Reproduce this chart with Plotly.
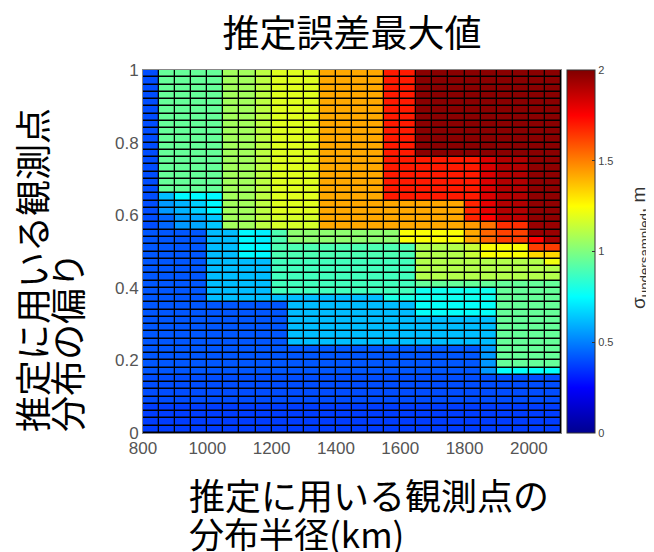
import plotly.graph_objects as go

# ---- data -------------------------------------------------------------
x_edges = [800, 850, 900, 950, 1000, 1050, 1100, 1150, 1200, 1250, 1300, 1350, 1400,
           1450, 1500, 1550, 1600, 1650, 1700, 1750, 1800, 1850, 1900, 1950, 2000,
           2050, 2100]
y_edges = [0.00, 0.02, 0.04, 0.06, 0.08, 0.10, 0.12, 0.14, 0.16, 0.18, 0.20, 0.22,
           0.24, 0.26, 0.28, 0.30, 0.32, 0.34, 0.36, 0.38, 0.40, 0.42, 0.44, 0.46,
           0.48, 0.50, 0.52, 0.54, 0.56, 0.58, 0.60, 0.62, 0.64, 0.66, 0.68, 0.70,
           0.72, 0.74, 0.76, 0.78, 0.80, 0.82, 0.84, 0.86, 0.88, 0.90, 0.92, 0.94,
           0.96, 0.98, 1.00]
x_ticks = [800, 1000, 1200, 1400, 1600, 1800, 2000]
y_ticks = [0, 0.2, 0.4, 0.6, 0.8, 1]
y_ticktext = ["0", "0.2", "0.4", "0.6", "0.8", "1"]
cb_ticks = [0, 0.5, 1, 1.5, 2]
cb_ticktext = ["0", "0.5", "1", "1.5", "2"]

# rows listed from the TOP of the chart (y = 1) downwards
z_top_down = [
    [0.40, 0.95, 0.95, 0.95, 0.95, 1.07, 1.07, 1.12, 1.19, 1.19, 1.19, 1.42, 1.42, 1.42, 1.42, 1.70, 1.70, 1.98, 1.98, 1.98, 1.98, 1.98, 1.98, 1.98, 1.98, 1.98],
    [0.40, 0.95, 0.95, 0.95, 0.95, 1.07, 1.07, 1.12, 1.19, 1.19, 1.19, 1.42, 1.42, 1.42, 1.42, 1.70, 1.70, 1.98, 1.98, 1.98, 1.98, 1.98, 1.98, 1.98, 1.98, 1.98],
    [0.40, 0.95, 0.95, 0.95, 0.95, 1.07, 1.07, 1.12, 1.19, 1.19, 1.19, 1.42, 1.42, 1.42, 1.42, 1.70, 1.70, 1.98, 1.98, 1.98, 1.98, 1.98, 1.98, 1.98, 1.98, 1.98],
    [0.40, 0.95, 0.95, 0.95, 0.95, 1.07, 1.07, 1.12, 1.19, 1.19, 1.19, 1.42, 1.42, 1.42, 1.42, 1.70, 1.70, 1.98, 1.98, 1.98, 1.98, 1.98, 1.98, 1.98, 1.98, 1.98],
    [0.40, 0.95, 0.95, 0.95, 0.95, 1.07, 1.07, 1.12, 1.19, 1.19, 1.19, 1.42, 1.42, 1.42, 1.42, 1.70, 1.70, 1.98, 1.98, 1.98, 1.98, 1.98, 1.98, 1.98, 1.98, 1.98],
    [0.40, 0.95, 0.95, 0.95, 0.95, 1.07, 1.07, 1.12, 1.19, 1.19, 1.19, 1.42, 1.42, 1.42, 1.42, 1.70, 1.70, 1.98, 1.98, 1.98, 1.98, 1.98, 1.98, 1.98, 1.98, 1.98],
    [0.40, 0.95, 0.95, 0.95, 0.95, 1.07, 1.07, 1.12, 1.19, 1.19, 1.19, 1.42, 1.42, 1.42, 1.42, 1.70, 1.70, 1.98, 1.98, 1.98, 1.98, 1.98, 1.98, 1.98, 1.98, 1.98],
    [0.40, 0.95, 0.95, 0.95, 0.95, 1.07, 1.07, 1.12, 1.19, 1.19, 1.19, 1.42, 1.42, 1.42, 1.42, 1.70, 1.70, 1.98, 1.98, 1.98, 1.98, 1.98, 1.98, 1.98, 1.98, 1.98],
    [0.40, 0.95, 0.95, 0.95, 0.95, 1.07, 1.07, 1.12, 1.19, 1.19, 1.19, 1.42, 1.42, 1.42, 1.42, 1.70, 1.70, 1.98, 1.98, 1.98, 1.98, 1.98, 1.98, 1.98, 1.98, 1.98],
    [0.40, 0.95, 0.95, 0.95, 0.95, 1.07, 1.07, 1.12, 1.19, 1.19, 1.19, 1.42, 1.42, 1.42, 1.42, 1.70, 1.70, 1.98, 1.98, 1.98, 1.98, 1.98, 1.98, 1.98, 1.98, 1.98],
    [0.40, 0.95, 0.95, 0.95, 0.95, 1.07, 1.07, 1.12, 1.19, 1.19, 1.19, 1.42, 1.42, 1.42, 1.42, 1.70, 1.70, 1.98, 1.98, 1.98, 1.98, 1.98, 1.98, 1.98, 1.98, 1.98],
    [0.40, 0.95, 0.95, 0.95, 0.95, 1.07, 1.07, 1.12, 1.19, 1.19, 1.19, 1.42, 1.42, 1.42, 1.42, 1.70, 1.70, 1.98, 1.98, 1.98, 1.98, 1.98, 1.98, 1.98, 1.98, 1.98],
    [0.40, 0.95, 0.95, 0.95, 0.95, 1.07, 1.07, 1.12, 1.19, 1.19, 1.19, 1.42, 1.42, 1.42, 1.42, 1.70, 1.70, 1.70, 1.70, 1.70, 1.70, 1.82, 1.90, 1.90, 1.97, 1.97],
    [0.40, 0.95, 0.95, 0.95, 0.95, 1.07, 1.07, 1.12, 1.19, 1.19, 1.19, 1.42, 1.42, 1.42, 1.42, 1.70, 1.70, 1.70, 1.70, 1.70, 1.70, 1.82, 1.90, 1.90, 1.97, 1.97],
    [0.40, 0.95, 0.95, 0.95, 0.95, 1.07, 1.07, 1.12, 1.19, 1.19, 1.19, 1.42, 1.42, 1.42, 1.42, 1.70, 1.70, 1.70, 1.70, 1.70, 1.70, 1.82, 1.90, 1.90, 1.97, 1.97],
    [0.40, 0.95, 0.95, 0.95, 0.95, 1.07, 1.07, 1.12, 1.19, 1.19, 1.19, 1.42, 1.42, 1.42, 1.42, 1.70, 1.70, 1.70, 1.70, 1.70, 1.70, 1.82, 1.90, 1.90, 1.97, 1.97],
    [0.40, 0.95, 0.95, 0.95, 0.95, 1.07, 1.07, 1.12, 1.19, 1.19, 1.19, 1.42, 1.42, 1.42, 1.42, 1.70, 1.70, 1.70, 1.70, 1.70, 1.70, 1.82, 1.90, 1.90, 1.97, 1.97],
    [0.40, 0.62, 0.74, 0.74, 0.74, 1.07, 1.07, 1.12, 1.19, 1.19, 1.19, 1.42, 1.42, 1.42, 1.42, 1.70, 1.70, 1.70, 1.70, 1.70, 1.70, 1.82, 1.90, 1.90, 1.97, 1.97],
    [0.40, 0.55, 0.60, 0.66, 0.74, 1.07, 1.07, 1.12, 1.19, 1.19, 1.19, 1.42, 1.42, 1.42, 1.42, 1.42, 1.42, 1.42, 1.42, 1.42, 1.68, 1.80, 1.90, 1.90, 1.97, 1.97],
    [0.40, 0.55, 0.60, 0.66, 0.74, 1.07, 1.07, 1.12, 1.19, 1.19, 1.19, 1.42, 1.42, 1.42, 1.42, 1.42, 1.42, 1.42, 1.42, 1.42, 1.68, 1.80, 1.90, 1.90, 1.97, 1.97],
    [0.40, 0.45, 0.55, 0.58, 0.64, 1.07, 1.07, 1.12, 1.17, 1.17, 1.17, 1.42, 1.42, 1.42, 1.42, 1.42, 1.42, 1.42, 1.42, 1.42, 1.68, 1.75, 1.88, 1.88, 1.97, 1.97],
    [0.40, 0.45, 0.55, 0.58, 0.64, 1.07, 1.07, 1.12, 1.17, 1.17, 1.17, 1.42, 1.42, 1.42, 1.42, 1.42, 1.42, 1.42, 1.42, 1.42, 1.45, 1.52, 1.66, 1.66, 1.95, 1.95],
    [0.42, 0.42, 0.42, 0.42, 0.62, 0.62, 0.74, 0.72, 0.90, 1.03, 1.03, 1.03, 1.03, 1.03, 1.03, 1.03, 1.24, 1.24, 1.24, 1.24, 1.42, 1.55, 1.62, 1.62, 1.95, 1.95],
    [0.42, 0.42, 0.42, 0.42, 0.62, 0.62, 0.74, 0.72, 0.90, 1.03, 1.03, 1.03, 1.03, 1.03, 1.03, 1.03, 1.24, 1.24, 1.24, 1.24, 1.42, 1.55, 1.63, 1.63, 1.75, 1.92],
    [0.42, 0.42, 0.42, 0.42, 0.62, 0.62, 0.74, 0.74, 0.90, 0.90, 0.90, 0.90, 0.90, 0.90, 0.90, 0.90, 0.90, 1.10, 1.10, 1.10, 1.14, 1.24, 1.24, 1.24, 1.63, 1.63],
    [0.42, 0.42, 0.42, 0.42, 0.62, 0.62, 0.74, 0.74, 0.90, 0.90, 0.90, 0.90, 0.90, 0.90, 0.90, 0.90, 0.90, 1.10, 1.10, 1.10, 1.14, 1.24, 1.24, 1.24, 1.33, 1.33],
    [0.42, 0.42, 0.42, 0.42, 0.62, 0.62, 0.62, 0.62, 0.88, 0.88, 0.88, 0.88, 0.88, 0.88, 0.88, 0.88, 0.88, 1.10, 1.10, 1.10, 1.10, 1.10, 1.10, 1.10, 1.10, 1.22],
    [0.42, 0.42, 0.42, 0.42, 0.62, 0.62, 0.62, 0.62, 0.88, 0.88, 0.88, 0.88, 0.88, 0.88, 0.88, 0.88, 0.88, 1.10, 1.10, 1.10, 1.10, 1.10, 1.10, 1.10, 1.10, 1.10],
    [0.42, 0.42, 0.42, 0.42, 0.62, 0.62, 0.62, 0.62, 0.88, 0.88, 0.88, 0.88, 0.88, 0.88, 0.88, 0.88, 0.88, 1.10, 1.10, 1.10, 1.10, 1.10, 1.10, 1.10, 1.10, 1.10],
    [0.42, 0.42, 0.42, 0.42, 0.62, 0.62, 0.62, 0.62, 0.88, 0.88, 0.88, 0.88, 0.88, 0.88, 0.88, 0.88, 0.88, 0.95, 0.95, 0.95, 0.95, 0.95, 0.95, 0.95, 0.95, 0.95],
    [0.42, 0.42, 0.42, 0.42, 0.62, 0.62, 0.62, 0.62, 0.88, 0.88, 0.88, 0.88, 0.88, 0.88, 0.88, 0.88, 0.88, 0.78, 0.78, 0.78, 0.78, 0.78, 0.95, 0.95, 0.95, 0.95],
    [0.42, 0.42, 0.42, 0.42, 0.62, 0.62, 0.62, 0.62, 0.62, 0.62, 0.62, 0.62, 0.62, 0.62, 0.62, 0.80, 0.80, 0.78, 0.78, 0.78, 0.78, 0.78, 0.95, 0.95, 0.95, 0.95],
    [0.42, 0.42, 0.42, 0.42, 0.42, 0.42, 0.42, 0.42, 0.42, 0.62, 0.62, 0.62, 0.62, 0.62, 0.62, 0.62, 0.62, 0.76, 0.76, 0.76, 0.76, 0.76, 0.95, 0.95, 0.95, 0.95],
    [0.42, 0.42, 0.42, 0.42, 0.42, 0.42, 0.42, 0.42, 0.42, 0.62, 0.62, 0.62, 0.62, 0.62, 0.62, 0.62, 0.62, 0.76, 0.76, 0.76, 0.76, 0.76, 0.95, 0.95, 0.95, 0.95],
    [0.42, 0.42, 0.42, 0.42, 0.42, 0.42, 0.42, 0.42, 0.42, 0.62, 0.62, 0.62, 0.62, 0.62, 0.62, 0.62, 0.62, 0.62, 0.62, 0.62, 0.62, 0.62, 0.95, 0.95, 0.95, 0.95],
    [0.42, 0.42, 0.42, 0.42, 0.42, 0.42, 0.42, 0.42, 0.42, 0.62, 0.62, 0.62, 0.62, 0.62, 0.62, 0.62, 0.62, 0.62, 0.62, 0.62, 0.62, 0.62, 0.95, 0.95, 0.95, 0.95],
    [0.42, 0.42, 0.42, 0.42, 0.42, 0.42, 0.42, 0.42, 0.42, 0.62, 0.62, 0.62, 0.62, 0.62, 0.62, 0.62, 0.62, 0.62, 0.62, 0.62, 0.62, 0.62, 0.95, 0.95, 0.95, 0.95],
    [0.42, 0.42, 0.42, 0.42, 0.42, 0.42, 0.42, 0.42, 0.42, 0.62, 0.62, 0.62, 0.62, 0.62, 0.62, 0.62, 0.62, 0.62, 0.62, 0.62, 0.62, 0.62, 0.95, 0.95, 0.95, 0.95],
    [0.42, 0.42, 0.42, 0.42, 0.42, 0.42, 0.42, 0.42, 0.42, 0.42, 0.42, 0.42, 0.42, 0.42, 0.42, 0.42, 0.42, 0.42, 0.42, 0.42, 0.42, 0.55, 0.95, 0.95, 0.95, 0.95],
    [0.42, 0.42, 0.42, 0.42, 0.42, 0.42, 0.42, 0.42, 0.42, 0.42, 0.42, 0.42, 0.42, 0.42, 0.42, 0.42, 0.42, 0.42, 0.42, 0.42, 0.42, 0.55, 0.95, 0.95, 0.95, 0.95],
    [0.42, 0.42, 0.42, 0.42, 0.42, 0.42, 0.42, 0.42, 0.42, 0.42, 0.42, 0.42, 0.42, 0.42, 0.42, 0.42, 0.42, 0.42, 0.42, 0.42, 0.42, 0.55, 0.95, 0.95, 0.95, 0.95],
    [0.42, 0.42, 0.42, 0.42, 0.42, 0.42, 0.42, 0.42, 0.42, 0.42, 0.42, 0.42, 0.42, 0.42, 0.42, 0.42, 0.42, 0.42, 0.42, 0.42, 0.42, 0.55, 0.76, 0.76, 0.76, 0.76],
    [0.40, 0.40, 0.40, 0.40, 0.40, 0.40, 0.40, 0.40, 0.40, 0.40, 0.40, 0.40, 0.40, 0.40, 0.40, 0.40, 0.40, 0.40, 0.40, 0.40, 0.40, 0.40, 0.40, 0.40, 0.40, 0.40],
    [0.40, 0.40, 0.40, 0.40, 0.40, 0.40, 0.40, 0.40, 0.40, 0.40, 0.40, 0.40, 0.40, 0.40, 0.40, 0.40, 0.40, 0.40, 0.40, 0.40, 0.40, 0.40, 0.40, 0.40, 0.40, 0.40],
    [0.40, 0.40, 0.40, 0.40, 0.40, 0.40, 0.40, 0.40, 0.40, 0.40, 0.40, 0.40, 0.40, 0.40, 0.40, 0.40, 0.40, 0.40, 0.40, 0.40, 0.40, 0.40, 0.40, 0.40, 0.40, 0.40],
    [0.40, 0.40, 0.40, 0.40, 0.40, 0.40, 0.40, 0.40, 0.40, 0.40, 0.40, 0.40, 0.40, 0.40, 0.40, 0.40, 0.40, 0.40, 0.40, 0.40, 0.40, 0.40, 0.40, 0.40, 0.40, 0.40],
    [0.37, 0.37, 0.37, 0.37, 0.37, 0.37, 0.37, 0.37, 0.37, 0.37, 0.37, 0.37, 0.37, 0.37, 0.37, 0.37, 0.37, 0.37, 0.37, 0.37, 0.37, 0.37, 0.37, 0.37, 0.37, 0.37],
    [0.37, 0.37, 0.37, 0.37, 0.37, 0.37, 0.37, 0.37, 0.37, 0.37, 0.37, 0.37, 0.37, 0.37, 0.37, 0.37, 0.37, 0.37, 0.37, 0.37, 0.37, 0.37, 0.37, 0.37, 0.37, 0.37],
    [0.37, 0.37, 0.37, 0.37, 0.37, 0.37, 0.37, 0.37, 0.37, 0.37, 0.37, 0.37, 0.37, 0.37, 0.37, 0.37, 0.37, 0.37, 0.37, 0.37, 0.37, 0.37, 0.37, 0.37, 0.37, 0.37],
    [0.37, 0.37, 0.37, 0.37, 0.37, 0.37, 0.37, 0.37, 0.37, 0.37, 0.37, 0.37, 0.37, 0.37, 0.37, 0.37, 0.37, 0.37, 0.37, 0.37, 0.37, 0.37, 0.37, 0.37, 0.37, 0.37],
]
z = z_top_down[::-1]

title_text = "推定誤差最大値"
xtitle_lines = ["推定に用いる観測点の", "分布半径(km)"]
ytitle_lines = ["推定に用いる観測点", "分布の偏り"]
cb_title = "σ<sub>undersampled</sub>, m"

# MATLAB-style jet colormap
jet = [[0.0, "rgb(0,0,143)"], [0.125, "rgb(0,0,255)"], [0.375, "rgb(0,255,255)"],
       [0.625, "rgb(255,255,0)"], [0.875, "rgb(255,0,0)"], [1.0, "rgb(128,0,0)"]]

CJK = "Noto Sans CJK JP"
TICKF = "Liberation Sans, Arial, sans-serif"

# The page body has an 8px margin, so the figure is drawn at (8, 8).
OFF = 8
W, H = 654 - OFF, 552 - OFF
# plot area in screen pixels: x 143..561, y 70..433
SX0, SX1, SY0, SY1 = 143, 561, 70, 433
L, T = SX0 - OFF, SY0 - OFF
R, B = W - (SX1 - OFF), H - (SY1 - OFF)
pw, ph = SX1 - SX0, SY1 - SY0


def px_x(p):
    return (p - SX0) / pw


def px_y(p):
    return (SY1 - p) / ph


fig = go.Figure(go.Heatmap(
    x=x_edges, y=y_edges, z=z, zmin=0, zmax=2, colorscale=jet,
    xgap=1.3, ygap=1.5,
    colorbar=dict(
        x=px_x(567), xanchor="left", xpad=0, ypad=0,
        y=0.5, yanchor="middle", len=1, lenmode="fraction",
        thickness=28, thicknessmode="pixels",
        outlinewidth=1, outlinecolor="#333",
        tickvals=cb_ticks, ticktext=cb_ticktext,
        ticks="inside", ticklen=3, tickcolor="#333",
        tickfont=dict(family=TICKF, size=11, color="#444"),
    ),
))

annotations = [
    dict(text=ytitle_lines[0], x=px_x(31), y=px_y(434), xref="paper", yref="paper",
         xanchor="center", yanchor="bottom", textangle=-90, showarrow=False,
         font=dict(family=CJK, size=36, color="black")),
    dict(text=ytitle_lines[1], x=px_x(66), y=px_y(434), xref="paper", yref="paper",
         xanchor="center", yanchor="bottom", textangle=-90, showarrow=False,
         font=dict(family=CJK, size=36, color="black")),
    dict(text=xtitle_lines[0], x=px_x(187), y=px_y(494), xref="paper", yref="paper",
         xanchor="left", yanchor="middle", showarrow=False,
         font=dict(family=CJK, size=36, color="black")),
    dict(text=xtitle_lines[1], x=px_x(187), y=px_y(532), xref="paper", yref="paper",
         xanchor="left", yanchor="middle", showarrow=False,
         font=dict(family=CJK, size=35, color="black")),
    dict(text=cb_title, x=px_x(640), y=px_y(248), xref="paper", yref="paper",
         xanchor="center", yanchor="middle", textangle=-90, showarrow=False,
         font=dict(family=TICKF, size=19, color="#333")),
]

fig.update_layout(
    width=W, height=H,
    margin=dict(l=L, r=R, t=T, b=B, pad=0),
    paper_bgcolor="white", plot_bgcolor="black",
    title=dict(text=title_text, x=px_x(352), xref="paper", xanchor="center",
               y=1 - (34 - OFF) / H, yref="container", yanchor="middle",
               font=dict(family=CJK, size=37, color="black")),
    annotations=annotations,
    xaxis=dict(range=[800, 2100], tickvals=x_ticks, ticks="", showgrid=False,
               zeroline=False, showline=True, linecolor="#888", linewidth=1, mirror=True,
               automargin=False,
               tickfont=dict(family=TICKF, size=17, color="#555")),
    yaxis=dict(range=[0, 1], tickvals=y_ticks, ticktext=y_ticktext, ticks="",
               showgrid=False, zeroline=False, showline=True, linecolor="#888",
               linewidth=1, mirror=True, automargin=False,
               tickfont=dict(family=TICKF, size=17, color="#555")),
)

fig.write_html("out.html")
